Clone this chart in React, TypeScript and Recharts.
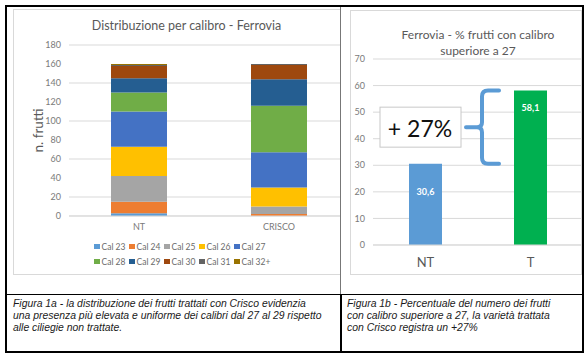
import React from "react"
import {
  BarChart,
  Bar,
  XAxis,
  YAxis,
  CartesianGrid,
  Legend,
  LabelList,
  Cell,
  ReferenceArea,
} from "recharts"

// left chart: number of fruits per calibre class
const groups = ["NT", "CRISCO"]
const calNames = ["Cal 23", "Cal 24", "Cal 25", "Cal 26", "Cal 27", "Cal 28", "Cal 29", "Cal 30", "Cal 31", "Cal 32+"]
const cal23 = [3, 0]
const cal24 = [12, 2]
const cal25 = [27, 8]
const cal26 = [31, 20]
const cal27 = [37, 37]
const cal28 = [20, 49]
const cal29 = [15, 28]
const cal30 = [13, 15]
const cal31 = [1, 1]
const cal32 = [1, 0]
const calSeries = [cal23, cal24, cal25, cal26, cal27, cal28, cal29, cal30, cal31, cal32]
const countTicks = [0, 20, 40, 60, 80, 100, 120, 140, 160, 180]

// right chart: % of fruits above calibre 27
const pctGroups = ["NT", "T"]
const pctValues = [30.6, 58.1]
const pctTicks = [0, 10, 20, 30, 40, 50, 60, 70]

/** Office palette */
const CAL_COLORS = [
  "#5B9BD5",
  "#ED7D31",
  "#A5A5A5",
  "#FFC000",
  "#4472C4",
  "#70AD47",
  "#255E91",
  "#9E480E",
  "#636363",
  "#997300",
]
const PCT_COLORS = ["#5B9BD5", "#00B050"]

const FONT = "Lato, 'Noto Sans', sans-serif"
const CAPTION_FONT = "'Liberation Sans', Arial, sans-serif"
const TICK = { fill: "#7a7a7a", fontSize: 9, fontFamily: FONT }

const calData = groups.map((g, i) => {
  const row: Record<string, number | string> = { group: g }
  calNames.forEach((n, k) => (row[n] = calSeries[k][i]))
  return row
})
const pctData = pctGroups.map((g, i) => ({ group: g, value: pctValues[i] }))

function CalLegend(props: any) {
  const items = props.payload || []
  return (
    <div
      style={{
        height: 38,
        boxSizing: "border-box",
        paddingTop: 3,
        display: "grid",
        gridTemplateColumns: "repeat(5, 35px)",
        gridAutoRows: "15px",
        justifyContent: "center",
      }}
    >
      {items.map((p: any) => (
        <div
          key={p.value}
          style={{
            display: "flex",
            alignItems: "center",
            height: 15,
            fontSize: 8.5,
            color: "#6b6b6b",
            fontFamily: FONT,
            whiteSpace: "nowrap",
          }}
        >
          <span style={{ width: 5.5, height: 5.5, background: p.color, marginRight: 2, display: "inline-block", flex: "none" }} />
          {p.value}
        </div>
      ))}
    </div>
  )
}

const labelOffsets = [28, 17]

function PctLabel(props: any) {
  const { x, y, width, value, index } = props
  return (
    <text
      x={x + width / 2}
      y={y + labelOffsets[index]}
      fill="#fff"
      fontSize={9}
      fontWeight={700}
      fontFamily={FONT}
      textAnchor="middle"
      dominantBaseline="central"
    >
      {String(value).replace(".", ",")}
    </text>
  )
}

// curly brace spanning the two bar heights + the "+ 27%" box
function Brace(props: any) {
  const { x, y, width, height } = props
  const xv = x + width / 2 + 4
  const yT = y
  const yB = y + height
  const yM = y + height / 2
  const d = [
    `M ${xv + 17} ${yT} L ${xv + 6} ${yT} Q ${xv} ${yT} ${xv} ${yT + 6}`,
    `L ${xv} ${yM - 5} Q ${xv} ${yM} ${xv - 5} ${yM} L ${xv - 16} ${yM}`,
    `M ${xv - 5} ${yM} Q ${xv} ${yM} ${xv} ${yM + 5}`,
    `L ${xv} ${yB - 6} Q ${xv} ${yB} ${xv + 6} ${yB} L ${xv + 17} ${yB}`,
  ].join(" ")
  return (
    <g>
      <path d={d} fill="none" stroke="#5B9BD5" strokeWidth={4} strokeLinecap="round" />
      <rect x={xv - 102} y={yM - 20} width={81} height={40} fill="#fff" stroke="#c8c8c8" strokeWidth={1} />
      <text x={xv - 62} y={yM + 1} fontSize={23} fontFamily={FONT} fill="#111" textAnchor="middle" dominantBaseline="central">
        + 27%
      </text>
    </g>
  )
}

const captionStyle: React.CSSProperties = {
  position: "absolute",
  top: 298,
  fontFamily: CAPTION_FONT,
  fontStyle: "italic",
  fontSize: 10.4,
  lineHeight: "12px",
  color: "#1a1a1a",
  whiteSpace: "nowrap",
}

export default function App() {
  return (
    <div style={{ position: "absolute", left: 0, top: 0, width: 588, height: 357, background: "#fff", overflow: "hidden" }}>
      {/* table lines */}
      <div style={{ position: "absolute", left: 5, top: 5, width: 579, height: 348, border: "2px solid #000", boxSizing: "border-box" }} />
      <div style={{ position: "absolute", left: 340, top: 7, width: 1, height: 287, background: "#777" }} />
      <div style={{ position: "absolute", left: 340, top: 294, width: 1.5, height: 58, background: "#000" }} />
      <div style={{ position: "absolute", left: 7, top: 293.5, width: 575, height: 1.5, background: "#000" }} />

      {/* left chart, clipped by the cell */}
      <div style={{ position: "absolute", left: 7, top: 7, width: 333, height: 286, overflow: "hidden" }}>
        <div
          style={{
            position: "absolute",
            left: 6,
            top: 2,
            width: 347,
            height: 266,
            border: "1px solid #d9d9d9",
            boxSizing: "border-box",
          }}
        >
          <div
            style={{
              position: "absolute",
              left: 0,
              top: 7,
              width: 345,
              textAlign: "center",
              fontFamily: FONT,
              fontSize: 12.5,
              color: "#595959",
              lineHeight: "18px",
            }}
          >
            Distribuzione per calibro - Ferrovia
          </div>
          <BarChart width={345} height={264} data={calData} margin={{ top: 35, right: 10, left: 0, bottom: 0 }}>
            <CartesianGrid vertical={false} stroke="#d9d9d9" />
            <XAxis
              dataKey="group"
              height={20}
              tick={TICK}
              tickLine={false}
              axisLine={{ stroke: "#d9d9d9" }}
              interval={0}
            />
            <YAxis
              width={55}
              domain={[0, 180]}
              ticks={countTicks}
              tick={TICK}
              tickLine={false}
              axisLine={false}
              label={{
                value: "n. frutti",
                angle: -90,
                position: "center",
                dx: -3,
                style: { fill: "#595959", fontSize: 13.5, fontFamily: FONT },
              }}
            />
            <Legend verticalAlign="bottom" content={<CalLegend />} />
            {calNames.map((n, k) => (
              <Bar key={n} dataKey={n} stackId="a" fill={CAL_COLORS[k]} barSize={56} isAnimationActive={false} />
            ))}
          </BarChart>
        </div>
      </div>

      {/* right chart */}
      <div
        style={{
          position: "absolute",
          left: 350,
          top: 10,
          width: 232,
          height: 265,
          border: "1px solid #d9d9d9",
          boxSizing: "border-box",
          overflow: "hidden",
        }}
      >
        <div
          style={{
            position: "absolute",
            left: 22,
            top: 16,
            width: 210,
            textAlign: "center",
            fontFamily: FONT,
            fontSize: 12,
            color: "#595959",
            lineHeight: "15.7px",
          }}
        >
          Ferrovia - % frutti con calibro
          <br />
          superiore a 27
        </div>
        <BarChart width={240} height={263} data={pctData} margin={{ top: 48, right: 8, left: 0, bottom: 0 }}>
          <CartesianGrid vertical={false} stroke="#d9d9d9" />
          <XAxis
            dataKey="group"
            height={29}
            tick={{ fill: "#595959", fontSize: 13, fontFamily: FONT }}
            tickLine={false}
            tickMargin={7}
            axisLine={{ stroke: "#d9d9d9" }}
            interval={0}
          />
          <YAxis width={22} domain={[0, 70]} ticks={pctTicks} tick={TICK} tickLine={false} axisLine={false} />
          <ReferenceArea y1={pctValues[0]} y2={pctValues[1]} fill="none" stroke="none" shape={<Brace />} />
          <Bar dataKey="value" barSize={33} isAnimationActive={false}>
            {pctData.map((d, i) => (
              <Cell key={d.group} fill={PCT_COLORS[i]} />
            ))}
            <LabelList dataKey="value" content={<PctLabel />} />
          </Bar>
        </BarChart>
      </div>

      {/* captions */}
      <div style={{ ...captionStyle, left: 13 }}>
        Figura 1a - la distribuzione dei frutti trattati con Crisco evidenzia
        <br />
        una presenza più elevata e uniforme dei calibri dal 27 al 29 rispetto
        <br />
        alle ciliegie non trattate.
      </div>
      <div style={{ ...captionStyle, left: 347 }}>
        Figura 1b - Percentuale del numero dei frutti
        <br />
        con calibro superiore a 27, la varietà trattata
        <br />
        con Crisco registra un +27%
      </div>
    </div>
  )
}
